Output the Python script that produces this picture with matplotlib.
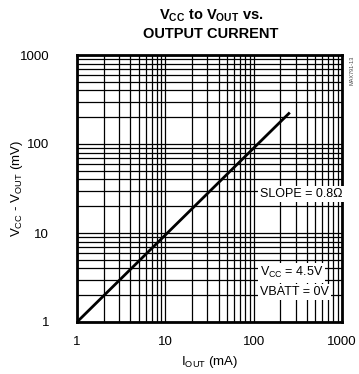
import matplotlib
matplotlib.use('Agg')
import matplotlib.pyplot as plt
from matplotlib.ticker import LogLocator, FixedLocator, NullFormatter

# data
i_out = [1, 10, 100, 250]        # mA
v_drop = [1, 9.5, 90, 220]       # mV

x_ticks = [1, 10, 100, 1000]
x_labels = ['1', '10', '100', '1000']
y_ticks = [1, 10, 100, 1000]
y_labels = ['1', '10', '100', '1000']

fam = ['Liberation Sans Narrow', 'Liberation Sans', 'DejaVu Sans']
plt.rcParams['font.family'] = fam
plt.rcParams['mathtext.fontset'] = 'custom'
plt.rcParams['mathtext.rm'] = 'Liberation Sans'

fig = plt.figure(figsize=(3.59, 3.74), dpi=100)
ax = fig.add_axes([77 / 359, 1 - 322 / 374, 265 / 359, 267 / 374])

ax.set_xscale('log')
ax.set_yscale('log')
ax.set_xlim(1, 1000)
ax.set_ylim(1, 1000)

ax.xaxis.set_major_locator(FixedLocator(x_ticks))
ax.yaxis.set_major_locator(FixedLocator(y_ticks))
ax.set_xticklabels(x_labels)
ax.set_yticklabels(y_labels)
ax.xaxis.set_minor_locator(LogLocator(base=10, subs=range(2, 10)))
ax.yaxis.set_minor_locator(LogLocator(base=10, subs=range(2, 10)))
ax.xaxis.set_minor_formatter(NullFormatter())
ax.yaxis.set_minor_formatter(NullFormatter())

ax.grid(True, which='both', color='black', linewidth=0.9)
ax.tick_params(which='both', length=0, labelsize=9.5)
ax.tick_params(axis='x', pad=10)
ax.tick_params(axis='y', pad=20)
for s in ax.spines.values():
    s.set_linewidth(2)

ax.plot(i_out, v_drop, color='black', linewidth=2, zorder=3)

box = dict(facecolor='white', edgecolor='none', pad=1.5)
ax.text(0.69, 0.479, 'SLOPE = 0.8\u03a9', transform=ax.transAxes,
        ha='left', va='center', fontsize=9, bbox=box, zorder=4)
ax.text(0.69, 0.184, r'V$_{\mathregular{CC}}$ = 4.5V', transform=ax.transAxes,
        ha='left', va='center', fontsize=9, bbox=box, zorder=4)
ax.text(0.69, 0.112, 'VBATT = 0V', transform=ax.transAxes,
        ha='left', va='center', fontsize=9, bbox=box, zorder=4)

fig.text(210 / 359, 1 - 362 / 374, r'I$_{\mathregular{OUT}}$ (mA)',
         ha='center', va='center', fontsize=9.5)
fig.text(17 / 359, 1 - 189 / 374, r'V$_{\mathregular{CC}}$ - V$_{\mathregular{OUT}}$ (mV)',
         ha='center', va='center', rotation=90, fontsize=9.5)

fig.text(211 / 359, 1 - 16 / 374, r'V$_{\mathregular{CC}}$ to V$_{\mathregular{OUT}}$ vs.',
         ha='center', va='center', fontsize=10.5, fontweight='bold')
fig.text(211 / 359, 1 - 34 / 374, 'OUTPUT CURRENT',
         ha='center', va='center', fontsize=10.5, fontweight='bold')
fig.text(352 / 359, 1 - 70 / 374, 'MAX791-13', rotation=90,
         ha='center', va='center', fontsize=4, color='#444444')

fig.savefig('out.png', dpi=100)
